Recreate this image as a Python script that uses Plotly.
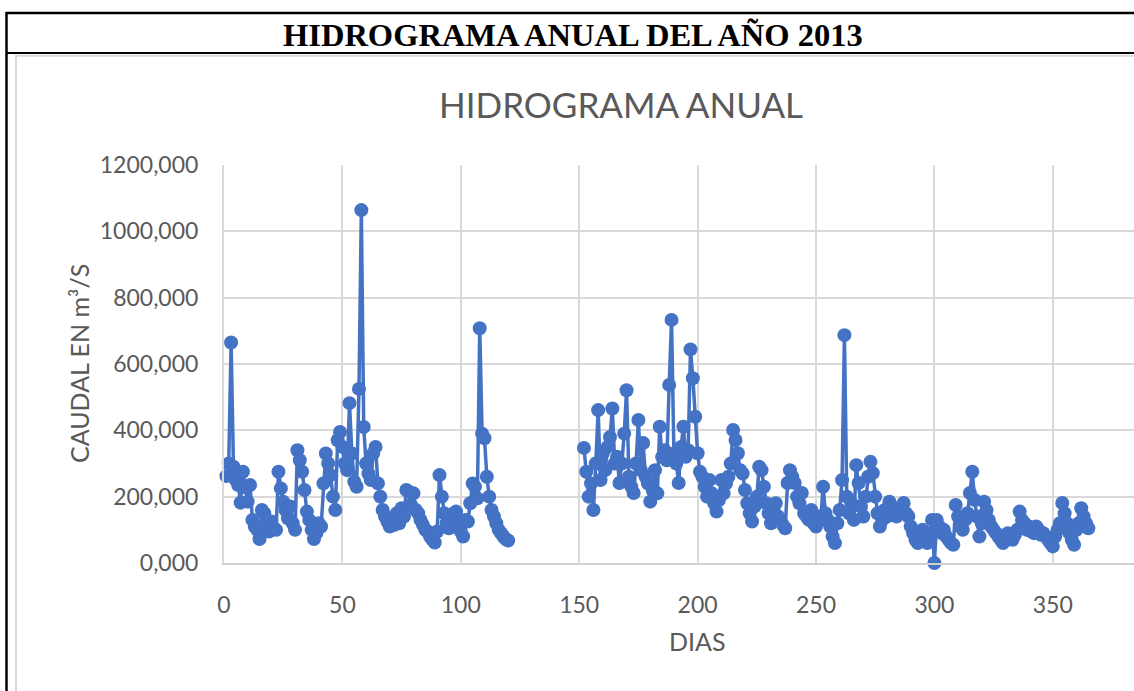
import plotly.graph_objects as go

# Caudal diario (m3/s) - dias 1 a 120
dias_a = list(range(1, 121))
caudal_a = [
    262, 300, 665, 290, 250, 235, 182, 275, 228, 185,
    235, 130, 110, 100, 72, 160, 150, 115, 95, 125,
    105, 100, 275, 225, 185, 160, 135, 170, 120, 100,
    340, 310, 275, 220, 155, 130, 100, 72, 90, 120,
    110, 240, 330, 300, 265, 200, 160, 370, 395, 350,
    300, 280, 482, 330, 245, 230, 525, 1064, 410, 300,
    270, 250, 330, 350, 240, 200, 160, 140, 125, 110,
    130, 115, 150, 120, 165, 140, 220, 215, 175, 210,
    160, 150, 130, 115, 100, 95, 80, 70, 62, 95,
    265, 200, 150, 120, 105, 130, 150, 155, 120, 95,
    80, 130, 125, 180, 240, 230, 195, 708, 390, 376,
    260, 200, 160, 140, 120, 100, 90, 80, 72, 68,
]

# Caudal diario (m3/s) - dias 152 a 365
dias_b = list(range(152, 366))
caudal_b = [
    347, 275, 200, 240, 160, 300, 461, 250, 330, 280,
    350, 380, 466, 300, 320, 241, 300, 390, 521, 260,
    230, 211, 300, 431, 280, 362, 260, 240, 185, 220,
    280, 210, 411, 320, 340, 310, 537, 733, 330, 300,
    241, 350, 411, 320, 340, 644, 557, 441, 331, 275,
    260, 230, 200, 250, 210, 180, 155, 190, 250, 210,
    240, 260, 300, 401, 371, 331, 280, 270, 220, 180,
    150, 125, 170, 200, 290, 280, 230, 180, 150, 120,
    160, 180, 140, 130, 115, 105, 241, 280, 260, 241,
    200, 180, 211, 150, 140, 130, 160, 120, 110, 140,
    130, 230, 150, 130, 110, 80, 60, 120, 160, 250,
    687, 200, 150, 180, 130, 295, 241, 170, 140, 200,
    260, 305, 271, 200, 150, 110, 130, 160, 140, 185,
    170, 150, 140, 160, 170, 181, 150, 140, 110, 90,
    70, 60, 80, 100, 75, 60, 90, 130, 0, 130,
    110, 90, 100, 80, 70, 60, 55, 175, 140, 110,
    100, 130, 150, 211, 275, 190, 140, 80, 120, 185,
    160, 130, 110, 100, 90, 80, 70, 60, 75, 90,
    80, 70, 85, 100, 155, 130, 120, 100, 110, 95,
    90, 110, 100, 85, 90, 80, 70, 60, 50, 80,
    100, 120, 181, 150, 120, 90, 70, 55, 100, 120,
    165, 140, 120, 105,
]

x_ticks = [0, 50, 100, 150, 200, 250, 300, 350]

# join both periods with a gap
dias = dias_a + [None] + dias_b
caudal = caudal_a + [None] + caudal_b

W, H = 1134, 691
L, R, T, B = 224, 1134, 165, 563  # plot area in pixels


def px(x):
    return (x - L) / (R - L)


def py(y):
    return (B - y) / (B - T)


gris = "#595959"
fuente = "Lato, 'Open Sans', sans-serif"

fig = go.Figure()
fig.add_trace(go.Scatter(
    x=dias,
    y=caudal,
    mode="lines+markers",
    line=dict(color="#4472C4", width=3.5),
    marker=dict(color="#4472C4", size=14),
    connectgaps=False,
    cliponaxis=False,
    showlegend=False,
))

shapes = [
    # black frame of the table
    dict(type="line", xref="paper", yref="paper", x0=px(6), x1=px(1140), y0=py(13), y1=py(13),
         line=dict(color="black", width=2.5)),
    dict(type="line", xref="paper", yref="paper", x0=px(6.5), x1=px(6.5), y0=py(12), y1=py(700),
         line=dict(color="black", width=2.5)),
    dict(type="line", xref="paper", yref="paper", x0=px(6), x1=px(1140), y0=py(53), y1=py(53),
         line=dict(color="black", width=2)),
    # grey border of the chart
    dict(type="line", xref="paper", yref="paper", x0=px(15), x1=px(1140), y0=py(55.7), y1=py(55.7),
         line=dict(color="#D9D9D9", width=2)),
    dict(type="line", xref="paper", yref="paper", x0=px(16), x1=px(16), y0=py(55), y1=py(700),
         line=dict(color="#D9D9D9", width=2)),
]

annotations = [
    dict(text="<b>HIDROGRAMA ANUAL DEL AÑO 2013</b>", xref="paper", yref="paper",
         x=px(573), y=py(35), showarrow=False, xanchor="center", yanchor="middle",
         font=dict(family="'Liberation Serif', 'Times New Roman', serif", size=32.5, color="black")),
    dict(text="HIDROGRAMA ANUAL", xref="paper", yref="paper",
         x=px(621), y=py(104), showarrow=False, xanchor="center", yanchor="middle",
         font=dict(family=fuente, size=35, color=gris)),
    dict(text="DIAS", xref="paper", yref="paper",
         x=px(697), y=py(641), showarrow=False, xanchor="center", yanchor="middle",
         font=dict(family=fuente, size=25, color=gris)),
    dict(text="CAUDAL EN m³/S", xref="paper", yref="paper", textangle=-90,
         x=px(79), y=py(364), showarrow=False, xanchor="center", yanchor="middle",
         font=dict(family=fuente, size=25, color=gris)),
]

fig.update_layout(
    width=W,
    height=H,
    margin=dict(l=L, r=W - R, t=T, b=H - B, pad=0),
    paper_bgcolor="white",
    plot_bgcolor="white",
    separators=",.",
    font=dict(family=fuente, color=gris),
    shapes=shapes,
    annotations=annotations,
    xaxis=dict(
        range=[0, (R - L) / 2.368],
        tickvals=x_ticks,
        showgrid=True,
        gridcolor="#D9D9D9",
        gridwidth=2,
        zeroline=False,
        showline=True,
        linecolor="#D0D0D0",
        linewidth=2,
        ticks="",
        ticklabelstandoff=20,
        tickfont=dict(size=23, color=gris),
    ),
    yaxis=dict(
        range=[0, 1200],
        dtick=200,
        tickformat=".3f",
        showgrid=True,
        gridcolor="#D9D9D9",
        gridwidth=2,
        zeroline=False,
        showline=True,
        linecolor="#D9D9D9",
        linewidth=2,
        ticks="",
        ticklabelstandoff=19,
        tickfont=dict(size=23, color=gris),
    ),
)

# page margin off so the figure sits at the window corner
fig.write_html(
    "out.html",
    config={"displayModeBar": False},
    post_script="document.body.style.margin='0';",
)
